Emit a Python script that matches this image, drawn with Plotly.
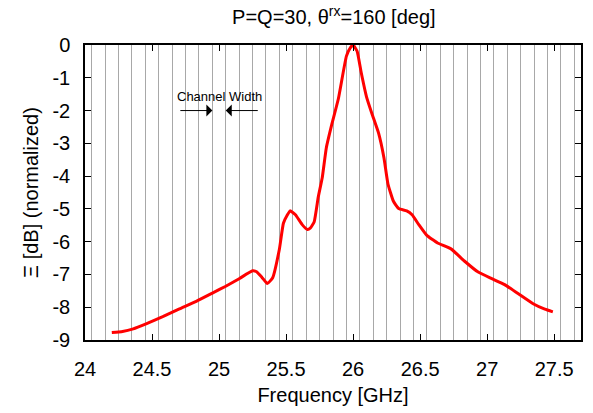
import plotly.graph_objects as go

freq = [24.20, 24.28, 24.36, 24.46, 24.58, 24.70, 24.83, 24.95, 25.05, 25.15,
        25.25, 25.28, 25.32, 25.36, 25.40, 25.45, 25.48, 25.51, 25.53, 25.57,
        25.62, 25.66, 25.68, 25.71, 25.74, 25.77, 25.80, 25.84, 25.89, 25.95,
        25.98, 26.00, 26.03, 26.06, 26.10, 26.14, 26.19, 26.23, 26.26, 26.30,
        26.34, 26.40, 26.44, 26.49, 26.55, 26.63, 26.73, 26.83, 26.93, 27.03,
        27.13, 27.23, 27.35, 27.43, 27.49]
xi_db = [-8.77, -8.74, -8.66, -8.50, -8.29, -8.06, -7.82, -7.57, -7.36, -7.13,
         -6.89, -6.92, -7.09, -7.28, -7.10, -6.23, -5.44, -5.18, -5.06, -5.18,
         -5.48, -5.63, -5.59, -5.39, -4.64, -4.04, -3.14, -2.44, -1.64, -0.34,
         -0.08, 0.00, -0.19, -0.83, -1.58, -2.09, -2.69, -3.44, -4.24, -4.76,
         -4.99, -5.06, -5.18, -5.48, -5.81, -6.04, -6.22, -6.59, -6.92, -7.12,
         -7.31, -7.58, -7.91, -8.06, -8.14]

x_ticks = [24, 24.5, 25, 25.5, 26, 26.5, 27, 27.5]
x_tick_labels = ["24", "24.5", "25", "25.5", "26", "26.5", "27", "27.5"]
y_ticks = [0, -1, -2, -3, -4, -5, -6, -7, -8, -9]
y_tick_labels = ["0", "-1", "-2", "-3", "-4", "-5", "-6", "-7", "-8", "-9"]

title_text = "P=Q=30, θ<sup>rx</sup>=160 [deg]"
x_title = "Frequency [GHz]"
y_title = "Ξ [dB] (normalized)"
annot_text = "Channel Width"

FONT = "Liberation Sans, Arial, sans-serif"
FS = 20

fig = go.Figure()
fig.add_trace(go.Scatter(x=freq, y=xi_db, mode="lines",
                         line=dict(color="#ff0000", width=3, shape="spline", smoothing=0.4),
                         showlegend=False, hoverinfo="skip"))

fig.update_layout(
    width=593, height=413,
    margin=dict(l=85, r=10, t=45, b=68),
    paper_bgcolor="white", plot_bgcolor="white",
    font=dict(family=FONT, size=FS, color="black"),
    title=dict(text=title_text, x=0.563, xanchor="center", y=1 - 17 / 413, yanchor="middle",
               font=dict(family=FONT, size=FS, color="black")),
    showlegend=False,
)

fig.update_xaxes(
    range=[24, 27.7], tickmode="array", tickvals=x_ticks, ticktext=x_tick_labels,
    ticks="inside", ticklen=6, tickcolor="black", tickwidth=1,
    showline=True, linecolor="black", linewidth=1.5, mirror="ticks",
    showgrid=False, zeroline=False,
    minor=dict(showgrid=True, tick0=24.15, dtick=0.1, gridcolor="#a8a8a8", gridwidth=1, ticks=""),
    title=dict(text=x_title, standoff=9, font=dict(size=FS)),
    tickfont=dict(size=FS), ticklabelstandoff=10,
)
fig.update_yaxes(
    range=[-9, 0], tickmode="array", tickvals=y_ticks, ticktext=y_tick_labels,
    ticks="inside", ticklen=6, tickcolor="black", tickwidth=1,
    showline=True, linecolor="black", linewidth=1.5, mirror="ticks",
    showgrid=False, zeroline=False,
    title=dict(text=y_title, standoff=8, font=dict(size=FS)),
    tickfont=dict(size=FS), ticklabelstandoff=9,
)

fig.add_annotation(x=25.0, y=-1.58, xref="x", yref="y", text=annot_text, showarrow=False,
                   font=dict(family=FONT, size=13, color="black"))
fig.add_annotation(x=24.95, y=-2.0, ax=24.70, ay=-2.0, xref="x", yref="y", axref="x", ayref="y",
                   text="", showarrow=True, arrowhead=1, arrowsize=2, arrowwidth=1,
                   arrowcolor="black", standoff=0, startstandoff=0)
fig.add_annotation(x=25.05, y=-2.0, ax=25.30, ay=-2.0, xref="x", yref="y", axref="x", ayref="y",
                   text="", showarrow=True, arrowhead=1, arrowsize=2, arrowwidth=1,
                   arrowcolor="black", standoff=0, startstandoff=0)

fig.write_html("out.html")
